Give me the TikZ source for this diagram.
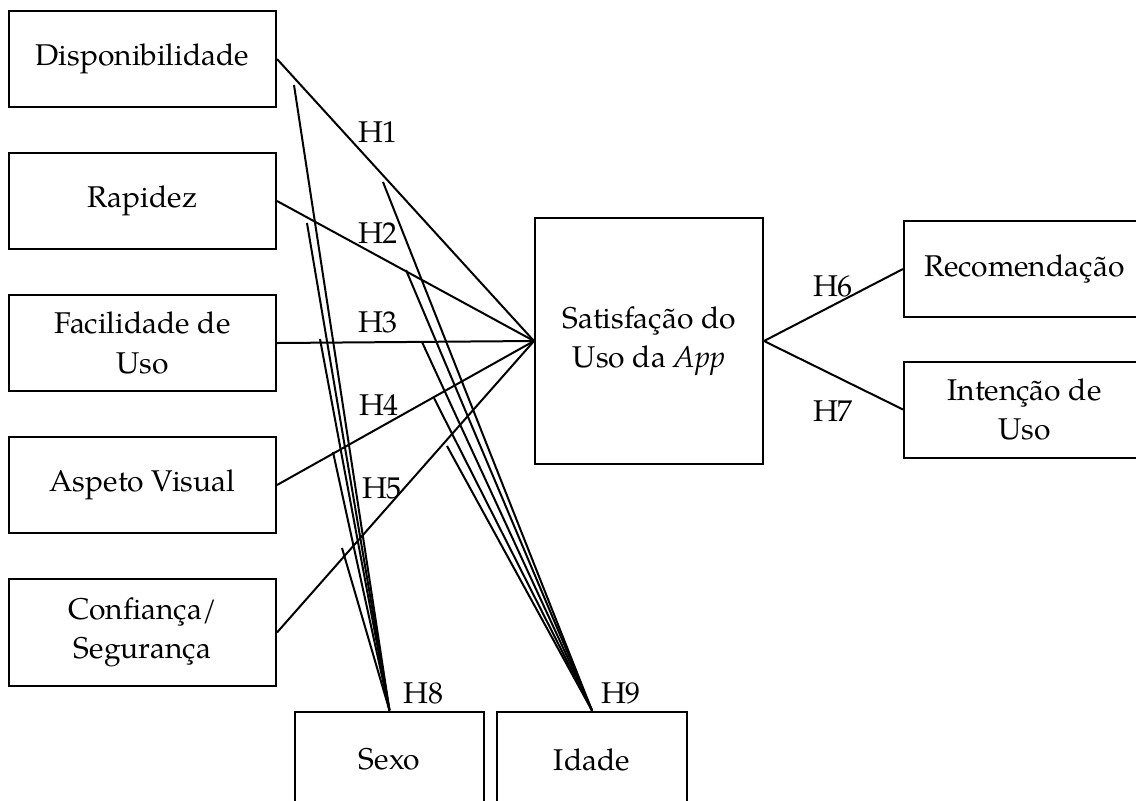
\documentclass[tikz,border=0pt]{standalone}
\usepackage{fontspec}
\setmainfont{texgyrepagella}[Extension=.otf, UprightFont=*-regular, ItalicFont=*-italic, BoldFont=*-bold]
\usetikzlibrary{positioning}

\tikzset{
  varbox/.style={rectangle, draw, thick, minimum width=106.8pt, minimum height=38.4pt, inner sep=0pt, align=center},
  outbox/.style={rectangle, draw, thick, minimum width=96.4pt, minimum height=38.4pt, inner sep=0pt, align=center},
  modbox/.style={rectangle, draw, thick, minimum width=75.8pt, minimum height=38.4pt, inner sep=0pt},
  hyp/.style={inner sep=0pt},
}

\begin{document}
\begin{tikzpicture}[x=0.4pt, y=-0.4pt, font=\fontsize{12}{15.8}\selectfont]

    \useasboundingbox (0,0) rectangle (1136,801);
    \clip (0,0) rectangle (1136,801);

    %% antecedents
    \node[varbox] (disp) at (142.5,59) {Disponibilidade};
    \node[varbox, below=17.6pt of disp] (rap) {Rapidez};
    \node[varbox, below=17.6pt of rap] (fac) {Facilidade de\\Uso};
    \node[varbox, below=17.6pt of fac] (asp) {Aspeto Visual};
    \node[varbox, below=17.6pt of asp, minimum height=42.8pt] (conf) {Confiança/\\Segurança};

    %% satisfaction and outcomes
    \node[rectangle, draw, thick, minimum width=91.2pt, minimum height=98.4pt, align=center] (sat) at (649,341) {Satisfação do\\Uso da \textit{App}};

    \node[outbox, anchor=west] (reco) at (903,269) {Recomendação};
    \node[outbox, anchor=west] (inten) at (903,409.5) {Intenção de\\Uso};

    \draw[thick] (disp.east) -- (sat.west);
    \draw[thick] (rap.east) -- (sat.west);
    \draw[thick] (fac.east) -- (sat.west);
    \draw[thick] (asp.east) -- (sat.west);
    \draw[thick] (conf.east) -- (sat.west);
    \draw[thick] (sat.east) -- (reco.west);
    \draw[thick] (sat.east) -- (inten.west);

    \node[hyp] (h1) at (378,132.5) {H1};
    \node[hyp] (h2) at (378,233.5) {H2};
    \node[hyp] (h3) at (378,322) {H3};
    \node[hyp] (h4) at (379,405) {H4};
    \node[hyp] (h5) at (382,488.5) {H5};
    \node[hyp] (h6) at (833,286) {H6};
    \node[hyp] (h7) at (833,411) {H7};

    %% moderators
    \node[modbox, anchor=north] (sexo) at (389.5,710.5) {};
    \node (sexotxt) at (sexo.center) {Sexo};
    \node[modbox, anchor=north] (idade) at (592,710.5) {};
    \node (idadetxt) at (idade.center) {Idade};

    \coordinate (s1) at (294,85);
    \coordinate (s2) at (307,223);
    \coordinate (s3) at (320,339);
    \coordinate (s4) at (333,452);
    \coordinate (s5) at (342,548);

    \coordinate (i1) at (383,182);
    \coordinate (i2) at (406,270);
    \coordinate (i3) at (422,342);
    \coordinate (i4) at (434,398);
    \coordinate (i5) at (447,446);

    \draw[thick] (sexo.north) -- (s1);
    \draw[thick] (sexo.north) -- (s2);
    \draw[thick] (sexo.north) -- (s3);
    \draw[thick] (sexo.north) -- (s4);
    \draw[thick] (sexo.north) -- (s5);

    \draw[thick] (idade.north) -- (i1);
    \draw[thick] (idade.north) -- (i2);
    \draw[thick] (idade.north) -- (i3);
    \draw[thick] (idade.north) -- (i4);
    \draw[thick] (idade.north) -- (i5);

    \node[hyp] (h8) at (423.5,693) {H8};
    \node[hyp] (h9) at (621,693) {H9};

\end{tikzpicture}
\end{document}
